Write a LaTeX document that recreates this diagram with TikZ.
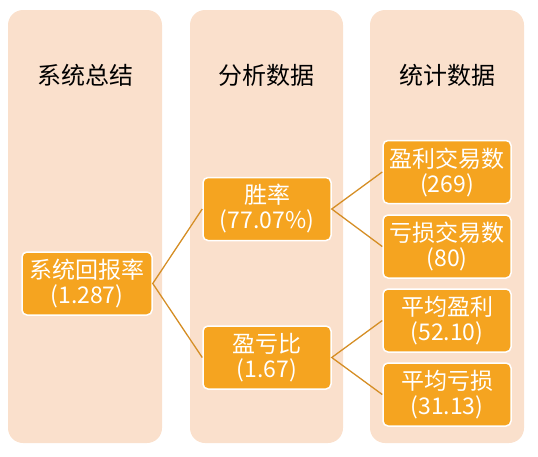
\documentclass[tikz,border=0pt]{standalone}
\usepackage{fontspec}
\newfontfamily\cjk{Noto Sans CJK SC}
\usepackage{tikz}
\usetikzlibrary{positioning}
\definecolor{panelbg}{HTML}{FAE0CC}
\definecolor{boxfill}{HTML}{F5A420}
\definecolor{linkcol}{HTML}{D58E25}

\begin{document}
\begin{tikzpicture}[x=1pt, y=-1pt, font=\cjk,
    panel/.style={fill=panelbg, rounded corners=15pt},
    title/.style={font=\cjk\fontsize{24}{28}\selectfont, text=black},
    box/.style={draw=white, line width=1.5pt, fill=boxfill, rounded corners=5pt,
        minimum width=128pt, minimum height=63pt, align=center, text=white,
        inner sep=0pt, font=\cjk\fontsize{23}{25}\selectfont},
    link/.style={draw=linkcol, line width=1.3pt}]
    \useasboundingbox (0,0) rectangle (538,456);

    % Panels
    \fill[panel] (8,10) rectangle (162,443);
    \fill[panel] (190,10) rectangle (343,443);
    \fill[panel] (370,10) rectangle (524,443);

    % Titles
    \node[title] (t1) at (85,75) {系统总结};
    \node[title] (t2) at (266.5,75) {分析数据};
    \node[title] (t3) at (447,75) {统计数据};

    % Summary
    \node[box, minimum width=130pt] (ret) at (87,283.5) {系统回报率\\(1.287)};

    % Analysis
    \node[box] (win) at (267,209) {胜率\\(77.07\%)};
    \node[box] (plr) at (267,357.5) {盈亏比\\(1.67)};

    % Statistics
    \node[box] (ntw) at (447,172) {盈利交易数\\(269)};
    \node[box] (ntl) at (447,246.5) {亏损交易数\\(80)};
    \node[box] (avw) at (447,320.5) {平均盈利\\(52.10)};
    \node[box] (avl) at (447,394.5) {平均亏损\\(31.13)};

    % Links
    \draw[link] (win.west) -- (ret.east) -- (plr.west);
    \draw[link] (ntw.west) -- (win.east) -- (ntl.west);
    \draw[link] (avw.west) -- (plr.east) -- (avl.west);
\end{tikzpicture}
\end{document}
